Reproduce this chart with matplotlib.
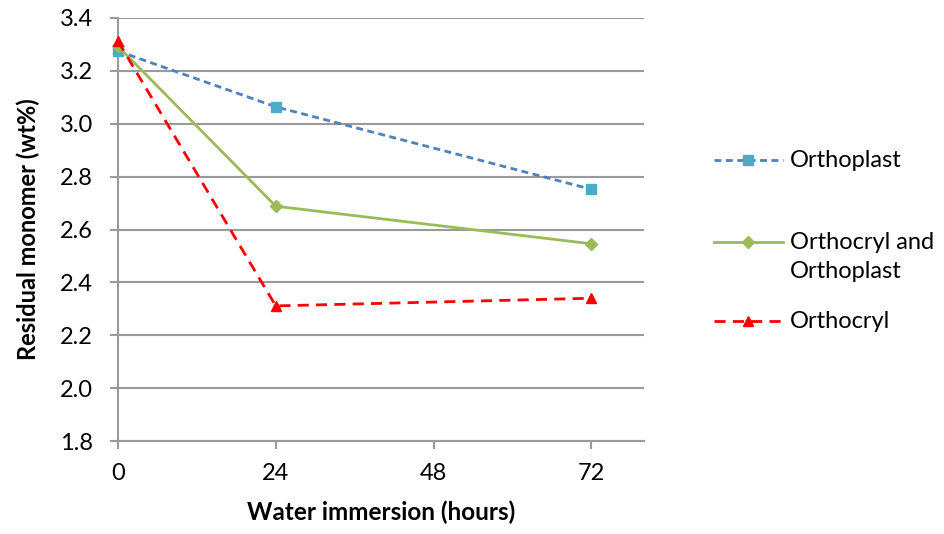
import matplotlib
matplotlib.use("Agg")
import matplotlib.pyplot as plt
from matplotlib.lines import Line2D

hours = [0, 24, 72]
orthoplast = [3.275, 3.064, 2.752]
both = [3.293, 2.688, 2.546]
orthocryl = [3.312, 2.311, 2.340]
labels = ["Orthoplast", "Orthocryl and\nOrthoplast", "Orthocryl"]

plt.rcParams["font.family"] = ["Lato", "DejaVu Sans"]

W, H = 944, 534
fig = plt.figure(figsize=(W / 100, H / 100), dpi=100)
ax = fig.add_axes([118 / W, 1 - 441 / H, (644 - 118) / W, (441 - 18) / H])

grid_c = "#9a9a9a"
styles = [
    dict(color="#4f81bd", ls=(0, (2.5, 1.6)), lw=2, marker="s", ms=6.5,
         mfc="#4bacc6", mec="#4bacc6"),
    dict(color="#9bbb59", ls="-", lw=2, marker="D", ms=6.5,
         mfc="#9bbb59", mec="#9bbb59"),
    dict(color="#ff0000", ls=(0, (4, 2.6)), lw=2, marker="^", ms=7.5,
         mfc="#ff0000", mec="#ff0000"),
]
for vals, st, z in zip([orthoplast, both, orthocryl], styles, [3, 3, 4]):
    ax.plot(hours, vals, clip_on=False, zorder=z, **st)

ax.set_xlim(0, 80)
ax.set_ylim(1.8, 3.4)
ax.set_xticks([0, 24, 48, 72])
ax.set_yticks([1.8, 2.0, 2.2, 2.4, 2.6, 2.8, 3.0, 3.2, 3.4])
ax.set_yticklabels([f"{v:.1f}" for v in ax.get_yticks()])
ax.grid(axis="y", color=grid_c, lw=1.5)
ax.set_axisbelow(True)
for s in ["top", "right"]:
    ax.spines[s].set_visible(False)
for s in ["left", "bottom"]:
    ax.spines[s].set_color(grid_c)
    ax.spines[s].set_linewidth(1.5)
ax.tick_params(axis="both", length=6, width=1.5, color=grid_c, labelsize=17)
ax.tick_params(axis="y", pad=12)
ax.tick_params(axis="x", pad=10)

ax.set_xlabel("Water immersion (hours)", fontsize=17.5, fontweight="bold", labelpad=12)
ax.set_ylabel("Residual monomer (wt%)", fontsize=17, fontweight="bold", labelpad=14)

# legend drawn by hand, Excel style (handle aligned with the first text line)
rows = [160, 242, 321]
for lbl, st, y in zip(labels, styles, rows):
    yf = 1 - y / H
    fig.add_artist(Line2D([714 / W, 783 / W], [yf, yf], transform=fig.transFigure,
                          color=st["color"], ls=st["ls"], lw=st["lw"]))
    fig.add_artist(Line2D([748 / W], [yf], transform=fig.transFigure, ls="none",
                          marker=st["marker"], ms=st["ms"], mfc=st["mfc"], mec=st["mec"]))
    fig.text(790 / W, yf + 10 / H, lbl, fontsize=17, va="top", ha="left",
             linespacing=1.45)

fig.savefig("out.png", dpi=100)
